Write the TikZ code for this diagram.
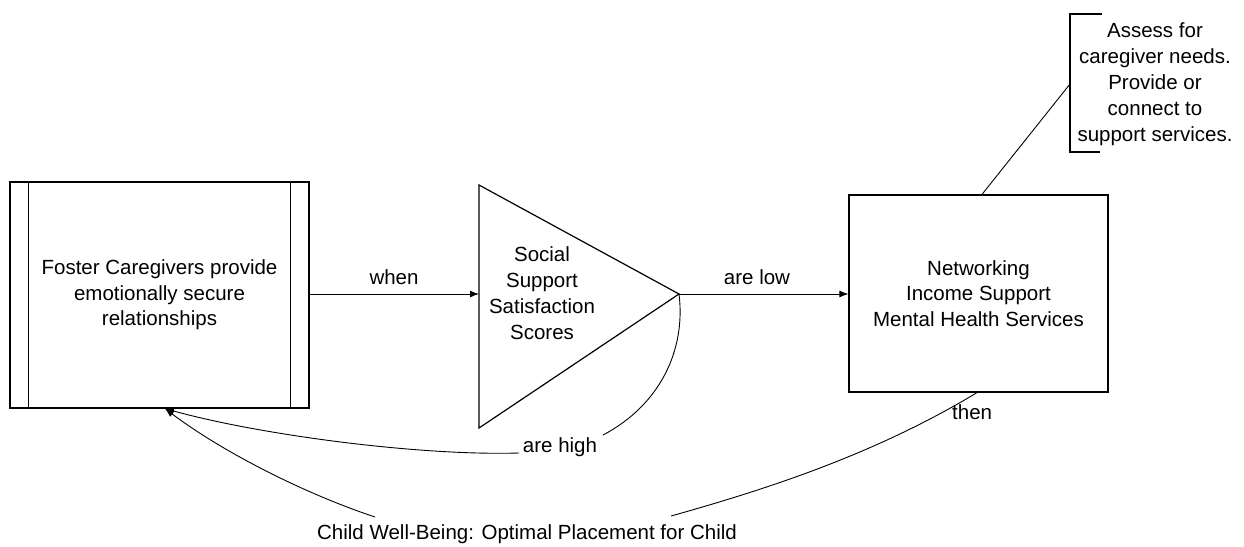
\documentclass[tikz,border=0pt]{standalone}
\usepackage{fontspec}
\setmainfont{Liberation Sans}
\usetikzlibrary{arrows.meta}
\begin{document}
\begin{tikzpicture}[x=1pt,y=-1pt,
  font=\fontsize{20.5}{25.5}\selectfont,
  boxst/.style={draw, line width=1.2pt, align=center, inner sep=0pt},
  edge/.style={line width=1.2pt},
  conn/.style={line width=0.9pt},
  tip/.style={-{Latex[length=9pt,width=7pt]}},
  lbl/.style={inner sep=0pt}]
\useasboundingbox (0,0) rectangle (1244,546);
\fill[white] (0,0) rectangle (1244,546);

% left box
\node[boxst, minimum width=299pt, minimum height=226pt] (lb) at (159.5,295)
  {Foster Caregivers provide\\emotionally secure\\relationships};
\draw[edge] ([xshift=19pt]lb.north west) -- ([xshift=19pt]lb.south west);
\draw[edge] ([xshift=-19pt]lb.north east) -- ([xshift=-19pt]lb.south east);

% triangle
\coordinate (tT) at (479,185);
\coordinate (tB) at (479,428);
\coordinate (tA) at (679,294);
\coordinate (tW) at (479,294);
\draw[edge] (tT) -- (tA) -- (tB) -- cycle;
\node[align=center, font=\fontsize{20.5}{26}\selectfont] (tri) at (542,293)
  {Social\\Support\\Satisfaction\\Scores};

% right box
\node[boxst, minimum width=259pt, minimum height=197pt] (rb) at (978.5,293.5)
  {Networking\\Income Support\\Mental Health Services};

% note bracket
\node[align=center, font=\fontsize{20.5}{26}\selectfont] (note) at (1155,84.5)
  {Assess for\\caregiver needs.\\Provide or\\connect to\\support services.};
\coordinate (bT) at (1102,14);
\coordinate (bB) at (1100,152);
\coordinate (bM) at (1070,84);
\draw[edge] (bT) -- (1070,14) -- (1070,152) -- (bB);
\draw[conn] ([xshift=3.5pt]rb.north) -- (bM);

% straight arrows
\draw[conn,tip] (lb.east |- tW) -- (tW);
\node[lbl] (wlbl) at (394,277) {when};
\draw[conn,tip] (tA) -- (tA -| rb.west);
\node[lbl] (lowlbl) at (757,277) {are low};

% are high loop
\coordinate (lbin) at ([xshift=5.5pt]lb.south);
\coordinate (h1) at (603,435);
\coordinate (h2) at (519,453);
\node[lbl] (lhigh) at (560,447) {are high};
\draw[conn] (tA) .. controls (686,350) and (660,405) .. (h1);
\draw[conn,tip] (h2) .. controls (420,456) and (260,435) .. (lbin);

% then loop
\coordinate (c1) at (977,393);
\coordinate (c2) at (671,516);
\coordinate (c3) at (375,517);
\node[lbl, anchor=west] (thenlbl) at (952,412) {then};
\node[lbl] (child) at (527,534) {Child Well-Being: Optimal Placement for Child};
\draw[conn] (rb.south -| c1) .. controls (877,453) and (771,488) .. (c2);
\draw[conn,tip] (c3) .. controls (300,492) and (220,450) .. (lbin);
\end{tikzpicture}
\end{document}
